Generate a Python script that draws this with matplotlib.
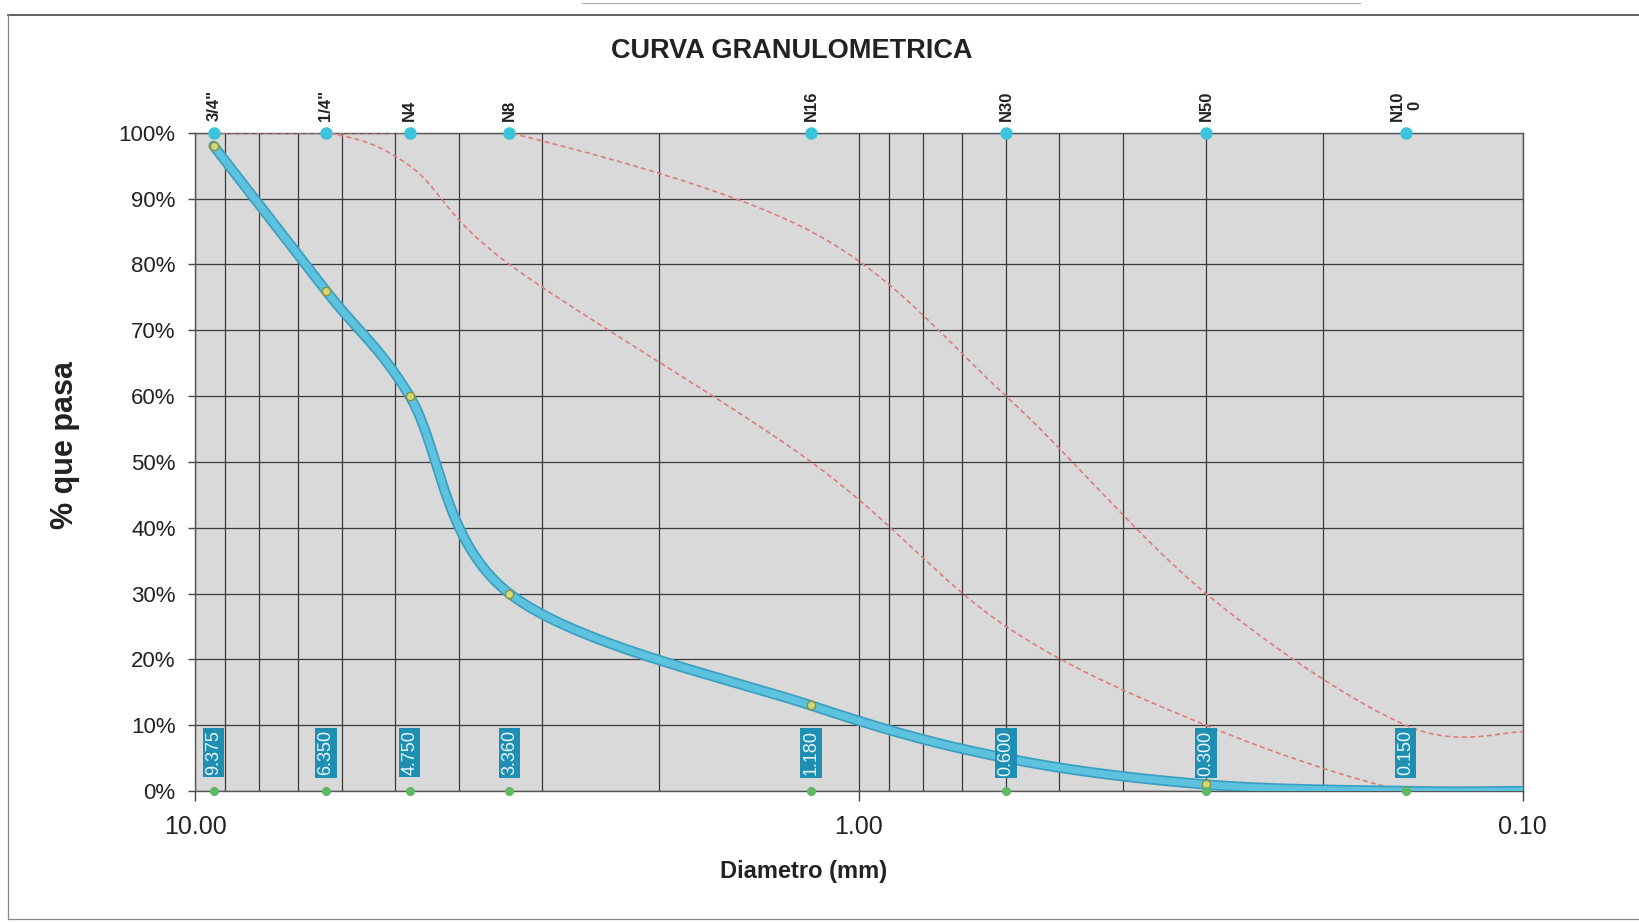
import numpy as np
import matplotlib
matplotlib.use("Agg")
import matplotlib.pyplot as plt
from matplotlib.ticker import FixedLocator, LogLocator, NullFormatter

plt.rcParams['font.family'] = ['Liberation Sans', 'DejaVu Sans']

# sieve openings (mm) and names
sieve_mm = [9.375, 6.350, 4.750, 3.360, 1.180, 0.600, 0.300, 0.150]
sieve_names = ['3/4"', '1/4"', 'N4', 'N8', 'N16', 'N30', 'N50', 'N10\n0']
sieve_labels = ['9.375', '6.350', '4.750', '3.360', '1.180', '0.600', '0.300', '0.150']

# curves (x in mm, y in % passing)
curve_x = [9.375, 6.350, 4.750, 3.360, 1.180, 0.600, 0.300, 0.150, 0.100]
passing = [98, 76, 60, 30, 13, 5, 1, 0, 0]
upper_lim = [100, 100, 100, 100, 85, 60, 30, 10, 9]
lower_lim = [100, 100, 95, 80, 50, 25, 10, 0, 0]

x_ticks = [10, 1, 0.1]
x_tick_labels = ['10.00', '1.00', '0.10']
y_ticks = list(range(0, 101, 10))


def smooth(xs, ys, n=40):
    # excel-like smoothed line: bezier through points in log-x space
    lx = np.log10(xs)
    pts = np.column_stack([lx, ys]).astype(float)
    ext = np.vstack([pts[0], pts, pts[-1]])
    out = []
    for i in range(len(pts) - 1):
        p0, p1, p2, p3 = ext[i], ext[i + 1], ext[i + 2], ext[i + 3]
        c1 = p1 + (p2 - p0) / 6
        c2 = p2 - (p3 - p1) / 6
        t = np.linspace(0, 1, n)[:, None]
        seg = ((1 - t) ** 3 * p1 + 3 * (1 - t) ** 2 * t * c1
               + 3 * (1 - t) * t ** 2 * c2 + t ** 3 * p2)
        out.append(seg if i == 0 else seg[1:])
    out = np.vstack(out)
    return 10 ** out[:, 0], out[:, 1]


fig = plt.figure(figsize=(16.39, 9.22), dpi=100)
ax = fig.add_axes([0.119, 0.142, 0.810, 0.714])
ax.set_facecolor('#d9d9d9')
ax.set_xscale('log')
ax.set_xlim(10, 0.1)
ax.set_ylim(0, 100)

ax.xaxis.set_major_locator(FixedLocator(x_ticks))
ax.set_xticklabels(x_tick_labels)
ax.xaxis.set_minor_locator(LogLocator(base=10, subs=np.arange(2, 10)))
ax.xaxis.set_minor_formatter(NullFormatter())
ax.set_yticks(y_ticks)
ax.set_yticklabels([f'{v}%' for v in y_ticks])

ax.tick_params(axis='x', which='major', length=7, width=1, color='#444444',
               labelsize=18, pad=10, colors='#222222')
ax.tick_params(axis='x', which='minor', length=0)
ax.tick_params(axis='y', length=5, width=1, color='#444444', labelsize=16,
               pad=9, colors='#222222')

ax.set_axisbelow(True)
ax.grid(True, which='both', axis='x', color='#3a3a3a', lw=0.9)
ax.grid(True, which='major', axis='y', color='#3a3a3a', lw=0.9)
for side in ['top', 'right', 'bottom', 'left']:
    ax.spines[side].set_color('#555555')
    ax.spines[side].set_linewidth(1)

# gradation limits
ux, uy = smooth(curve_x, upper_lim)
lx, ly = smooth(curve_x, lower_lim)
ax.plot(ux, uy, color='#e07c7c', lw=1.2, dashes=(3, 2), zorder=3)
ax.plot(lx, ly, color='#e07c7c', lw=1.2, dashes=(3, 2), zorder=3)

# sample curve
bx, by = smooth(curve_x, passing)
ax.plot(bx, by, color='#3b9fc2', lw=7.5, solid_capstyle='round', zorder=4)
ax.plot(bx, by, color='#5cc2de', lw=5, solid_capstyle='round', zorder=4)
ax.plot(curve_x[:-1], passing[:-1], 'o', ms=6, mfc='#cfd87a', mec='#8c8f3c',
        mew=1, zorder=5)

# sieve markers and labels
ax.plot(sieve_mm, [100] * len(sieve_mm), 'o', ms=8, color='#3cc3dc',
        clip_on=False, zorder=6)
ax.plot(sieve_mm, [0] * len(sieve_mm), 'o', ms=5.5, color='#5cba62',
        clip_on=False, zorder=6)
for xv, name, lab in zip(sieve_mm, sieve_names, sieve_labels):
    ax.text(xv, 101.8, name, rotation=90, ha='center', va='bottom',
            fontsize=12, fontweight='bold', color='#222222',
            multialignment='center', clip_on=False)
    ax.text(xv, 5.8, lab, rotation=90, ha='center', va='center',
            fontsize=13, color='#e8f6fa', zorder=7,
            bbox=dict(boxstyle='square,pad=0.12', fc='#1e8fb3', ec='none'))

fig.text(0.483, 0.945, 'CURVA GRANULOMETRICA', ha='center', va='center',
         fontsize=19.5, fontweight='bold', color='#222222')
fig.text(0.0397, 0.517, '% que pasa', rotation=90, ha='center', va='center',
         fontsize=22, fontweight='bold', color='#222222')
fig.text(0.490, 0.0553, 'Diametro (mm)', ha='center', va='center',
         fontsize=17, fontweight='bold', color='#222222')

# chart frame
fig.add_artist(plt.Line2D([0.005, 1.0], [0.984, 0.984], color='#555555', lw=1.3))
fig.add_artist(plt.Line2D([0.005, 0.005], [0.003, 0.984], color='#888888', lw=0.9))
fig.add_artist(plt.Line2D([0.005, 1.0], [0.003, 0.003], color='#888888', lw=0.9))
fig.add_artist(plt.Line2D([0.355, 0.83], [0.997, 0.997], color='#aaaaaa', lw=0.8))

fig.savefig('out.png', dpi=100, facecolor='white')
